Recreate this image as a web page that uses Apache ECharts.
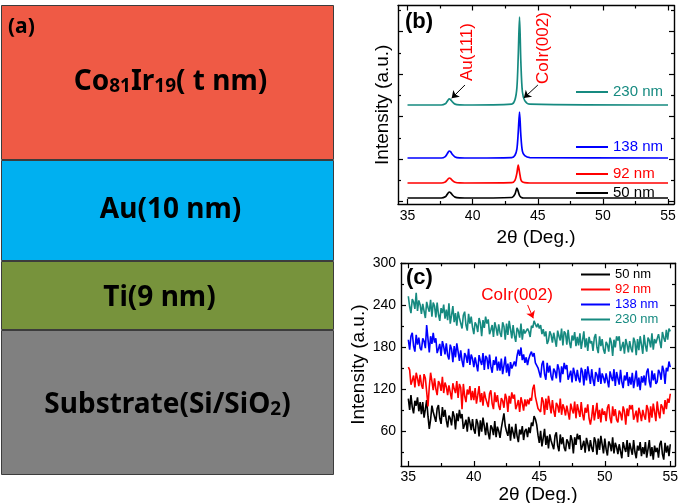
<!DOCTYPE html>
<html>
<head>
<meta charset="utf-8">
<script src="https://cdn.jsdelivr.net/npm/echarts@6/dist/echarts.min.js"></script>
<style>
  html, body { margin: 0; padding: 0; background: #fff; }
  #chart { width: 685px; height: 503px; }
</style>
</head>
<body>
<div id="chart"></div>
<script>
// ---- (a) film stack, top to bottom ----
const layerLabels = ['{m|Co}{s|81}{m|Ir}{s|19}{m|( t nm)}', '{m|Au(10 nm)}', '{m|Ti(9 nm)}', '{m|Substrate(Si/SiO}{s|2}{m|)}'];
const layerHeights = [155, 101, 69, 145];
const layerColors = ['#ef5a45', '#00b0f0', '#77933c', '#808080'];

// ---- (b) XRD, 2theta (deg) and stacked intensity (a.u.) ----
const thetaB = [35, 37.6, 37.9, 38.05, 38.2, 38.3, 38.45, 38.65, 39.0, 39.4, 43.0, 43.25, 43.4, 43.5, 43.6, 43.7, 43.82, 44.0, 44.4, 55];
const b50 = [87, 87, 115, 172, 228, 214, 158, 108, 90, 87, 99, 181, 322, 240, 146, 106, 92, 87, 87, 87];
const b92 = [440, 440, 464, 511, 558, 546, 499, 458, 442, 440, 448, 504, 673, 864, 694, 525, 465, 448, 440, 440];
const b138 = [1028, 1028, 1061, 1127, 1193, 1177, 1111, 1053, 1031, 1028, 1039, 1093, 1245, 1624, 2111, 1570, 1190, 1082, 1039, 1028];
const b230 = [2275, 2275, 2303, 2360, 2417, 2403, 2346, 2296, 2278, 2275, 2296, 2399, 2689, 3414, 4346, 3311, 2586, 2379, 2296, 2275];
const ticksB_x = [35, 40, 45, 50, 55];
const minorB_x = [37.5, 42.5, 47.5, 52.5];
const ticksB_y = [0, 1000, 2000, 3000, 4000];
const minorB_y = [500, 1500, 2500, 3500, 4500];

// ---- (c) scans from 35 to 55 deg, 0.1 deg step (one row per degree) ----
const scanStart = 35, scanStep = 0.1;
const c50 = [
  107, 91, 112, 95, 86, 104, 97, 109, 89, 102,
  85, 102, 80, 92, 105, 82, 64, 77, 97, 88,
  88, 74, 93, 98, 79, 71, 95, 81, 91, 76,
  66, 83, 79, 69, 89, 82, 63, 86, 75, 91,
  79, 85, 64, 70, 77, 60, 81, 73, 62, 78,
  63, 57, 78, 72, 53, 76, 60, 80, 68, 55,
  73, 58, 49, 69, 65, 55, 75, 52, 67, 61,
  51, 65, 63, 86, 68, 60, 54, 71, 47, 67,
  66, 50, 71, 54, 45, 63, 56, 68, 48, 61,
  64, 52, 66, 58, 73, 68, 82, 78, 70, 55,
  44, 61, 39, 51, 64, 41, 54, 36, 56, 47,
  49, 35, 54, 59, 40, 32, 56, 42, 52, 37,
  32, 49, 45, 35, 55, 48, 29, 52, 41, 57,
  49, 55, 34, 40, 47, 30, 51, 43, 32, 48,
  37, 31, 52, 46, 27, 50, 34, 54, 42, 29,
  50, 35, 26, 46, 42, 32, 52, 29, 44, 38,
  28, 42, 40, 22, 45, 37, 31, 48, 24, 44,
  43, 27, 48, 31, 22, 40, 33, 45, 25, 38,
  28, 45, 23, 35, 48, 25, 38, 20, 40, 31,
  37, 23, 42, 47, 28, 20, 44, 30, 40, 25,
  42];
const c92 = [
  152, 148, 127, 133, 140, 123, 144, 136, 125, 141,
  127, 121, 142, 136, 117, 96, 124, 144, 132, 119,
  136, 121, 112, 132, 128, 118, 138, 115, 130, 124,
  112, 126, 124, 106, 129, 121, 115, 132, 108, 128,
  123, 92, 128, 111, 102, 120, 113, 125, 105, 118,
  105, 122, 100, 112, 125, 102, 115, 97, 117, 108,
  109, 95, 114, 119, 100, 92, 116, 102, 112, 97,
  91, 108, 104, 94, 114, 107, 88, 111, 100, 116,
  107, 113, 92, 98, 105, 88, 109, 101, 90, 106,
  96, 106, 99, 108, 104, 121, 127, 110, 108, 93,
  94, 88, 109, 103, 84, 107, 91, 111, 99, 86,
  105, 90, 81, 101, 97, 87, 107, 84, 99, 93,
  83, 97, 95, 77, 100, 92, 86, 103, 79, 99,
  97, 81, 102, 85, 76, 94, 87, 99, 79, 70,
  81, 98, 76, 88, 101, 78, 91, 73, 93, 84,
  89, 75, 94, 99, 80, 72, 96, 82, 92, 77,
  73, 90, 86, 76, 96, 89, 70, 93, 82, 98,
  92, 98, 77, 83, 90, 73, 94, 86, 75, 91,
  83, 77, 98, 92, 73, 96, 80, 100, 88, 75,
  103, 88, 79, 99, 95, 85, 105, 92, 107, 101,
  114];
const c138 = [
  191, 177, 196, 201, 182, 174, 198, 184, 194, 179,
  176, 193, 189, 179, 212, 192, 173, 196, 185, 201,
  187, 193, 172, 178, 185, 168, 189, 181, 170, 186,
  169, 163, 184, 178, 159, 182, 166, 186, 174, 161,
  176, 161, 152, 172, 168, 158, 178, 155, 170, 164,
  152, 166, 164, 146, 169, 161, 155, 172, 148, 168,
  165, 149, 170, 153, 144, 162, 155, 167, 147, 160,
  147, 164, 142, 154, 167, 144, 157, 139, 159, 150,
  150, 160, 153, 168, 177, 168, 180, 162, 170, 158,
  166, 155, 164, 170, 174, 167, 172, 158, 160, 151,
  151, 137, 156, 161, 142, 134, 158, 144, 154, 139,
  133, 150, 146, 136, 156, 149, 130, 153, 142, 158,
  149, 155, 134, 140, 147, 130, 151, 143, 132, 148,
  136, 130, 151, 145, 126, 149, 133, 153, 141, 128,
  149, 134, 125, 145, 141, 131, 151, 128, 143, 137,
  129, 143, 141, 123, 146, 138, 132, 149, 125, 145,
  143, 127, 148, 131, 122, 140, 133, 145, 125, 138,
  127, 144, 122, 134, 147, 124, 137, 119, 139, 130,
  140, 126, 145, 150, 131, 123, 147, 133, 143, 128,
  131, 148, 144, 134, 154, 147, 128, 151, 146, 160,
  152];
const c230 = [
  253, 238, 229, 249, 245, 235, 258, 232, 247, 241,
  228, 242, 240, 222, 245, 237, 231, 248, 224, 244,
  239, 223, 244, 227, 218, 236, 229, 241, 221, 234,
  219, 243, 214, 226, 239, 216, 229, 211, 231, 222,
  221, 207, 226, 231, 212, 204, 228, 214, 224, 209,
  199, 216, 212, 202, 222, 215, 196, 219, 208, 224,
  214, 220, 199, 205, 212, 195, 216, 208, 197, 213,
  201, 195, 216, 210, 191, 214, 198, 218, 206, 193,
  212, 197, 188, 208, 204, 194, 214, 191, 206, 200,
  198, 207, 203, 195, 211, 208, 218, 213, 209, 214,
  207, 212, 199, 206, 196, 203, 185, 190, 203, 198,
  187, 201, 199, 181, 204, 196, 190, 207, 183, 203,
  200, 184, 205, 188, 179, 197, 190, 202, 182, 195,
  183, 200, 178, 190, 203, 180, 193, 175, 195, 186,
  189, 175, 194, 199, 180, 172, 196, 182, 192, 177,
  171, 188, 184, 174, 194, 187, 168, 191, 180, 196,
  190, 196, 175, 181, 188, 171, 192, 184, 173, 189,
  179, 173, 194, 188, 169, 192, 176, 196, 184, 171,
  198, 183, 174, 194, 190, 180, 200, 177, 192, 186,
  185, 199, 197, 179, 202, 194, 188, 205, 191, 207,
  203];
const ticksC_x = [35, 40, 45, 50, 55];
const minorC_x = [37.5, 42.5, 47.5, 52.5];
const ticksC_y = [60, 120, 180, 240, 300];
const minorC_y = [30, 90, 150, 210, 270];

const seriesNames = ['50 nm', '92 nm', '138 nm', '230 nm'];
const seriesColors = ['#000000', '#ff0000', '#0000ff', '#168a80'];

const FONT = 'Liberation Sans, Arial, sans-serif';
const chart = echarts.init(document.getElementById('chart'));

// four axes per direction: main + minor ticks, mirrored on the opposite side
function frame(dim, gridIndex, min, max, major, minor, showLabels, name, nameGap, labelMargin) {
  const sides = dim === 'x' ? ['bottom', 'top'] : ['left', 'right'];
  const axes = [];
  sides.forEach((position, side) => {
    [major, minor].forEach((ticks, k) => {
      const main = side === 0 && k === 0;
      axes.push({
        type: 'value', gridIndex, position, min, max,
        axisLine: { show: k === 0, onZero: false, lineStyle: { color: '#000', width: 1.4 } },
        axisTick: { show: true, inside: true, length: k === 0 ? 5 : 3, customValues: ticks,
          lineStyle: { color: '#000', width: 1.2 } },
        axisLabel: { show: main && showLabels, customValues: major, margin: labelMargin,
          color: '#000', fontSize: 14, fontFamily: FONT },
        splitLine: { show: false },
        name: main ? name : '',
        nameLocation: 'middle',
        nameGap,
        nameTextStyle: { color: '#000', fontSize: 19, fontFamily: FONT }
      });
    });
  });
  return axes;
}

const xyB = (ys) => thetaB.map((t, i) => [t, ys[i]]);
const xyC = (ys) => ys.map((v, i) => [+(scanStart + i * scanStep).toFixed(1), v]);

const seriesB = [b50, b92, b138, b230].map((ys, i) => ({
  name: seriesNames[i], type: 'line', xAxisIndex: 0, yAxisIndex: 0,
  data: xyB(ys), symbol: 'none', smooth: 0.3,
  lineStyle: { color: seriesColors[i], width: 1.7 }, itemStyle: { color: seriesColors[i] }
}));
// peak labels and arrows on the top trace
seriesB[3].markPoint = {
  symbol: 'circle', symbolSize: 0, silent: true,
  label: { show: true, position: 'inside', rotate: 90, color: '#ff0000', fontSize: 17, fontFamily: FONT,
    formatter: (p) => p.name },
  data: [{ name: 'Au(111)', coord: [39.56, 3522] }, { name: 'CoIr(002)', coord: [45.39, 3616] }]
};
seriesB[3].markLine = {
  silent: true, symbol: ['none', 'arrow'], symbolSize: 7, label: { show: false },
  lineStyle: { color: '#000', width: 1, type: 'solid' },
  data: [[{ coord: [39.41, 2746] }, { coord: [38.39, 2433] }],
         [{ coord: [45.01, 2746] }, { coord: [43.93, 2440] }]]
};

const seriesC = [c50, c92, c138, c230].map((ys, i) => ({
  name: seriesNames[i], type: 'line', xAxisIndex: 4, yAxisIndex: 4,
  data: xyC(ys), symbol: 'none',
  lineStyle: { color: seriesColors[i], width: 1.6 }, itemStyle: { color: seriesColors[i] }
}));
seriesC[3].markPoint = {
  symbol: 'circle', symbolSize: 0, silent: true,
  label: { show: true, position: 'inside', color: '#ff0000', fontSize: 17, fontFamily: FONT,
    formatter: (p) => p.name },
  data: [{ name: 'CoIr(002)', coord: [43.3, 255] }]
};
seriesC[3].markLine = {
  silent: true, symbol: ['none', 'arrow'], symbolSize: 7, label: { show: false },
  lineStyle: { color: '#ff0000', width: 1, type: 'solid' },
  data: [[{ coord: [44.11, 240.6] }, { coord: [44.54, 221.6] }]]
};

const labelShift = [[3, -3], [3, -3], [-8, 0], [0, 0]];
const seriesA = layerHeights.map((h, i) => ({
  type: 'bar', stack: 'film', xAxisIndex: 8, yAxisIndex: 8, barWidth: '100%',
  data: [h],
  itemStyle: { color: layerColors[i], borderColor: '#3c3c3c', borderWidth: 1 },
  label: {
    show: true, position: 'inside', offset: labelShift[i],
    formatter: layerLabels[i],
    rich: {
      m: { fontSize: 28, fontWeight: 'bold', color: '#000', fontFamily: 'Noto Sans', lineHeight: 34, verticalAlign: 'bottom' },
      s: { fontSize: 19, fontWeight: 'bold', color: '#000', fontFamily: 'Noto Sans', lineHeight: 20, verticalAlign: 'bottom' }
    }
  }
}));

const legendTopsB = [185, 166, 139, 84];

chart.setOption({
  animation: false,
  backgroundColor: '#fff',
  title: [
    { text: '(a)', left: 3, top: 12, textStyle: { fontSize: 21, fontWeight: 'bold', fontFamily: 'Noto Sans', color: '#000' } },
    { text: '(b)', left: 400, top: 6, textStyle: { fontSize: 22, fontWeight: 'bold', fontFamily: FONT, color: '#000' } },
    { text: '(c)', left: 401, top: 262, textStyle: { fontSize: 22, fontWeight: 'bold', fontFamily: FONT, color: '#000' } }
  ],
  legend: seriesNames.map((n, i) => ({
    data: [{ name: n, textStyle: { color: seriesColors[i] } }],
    left: 576, top: legendTopsB[i], padding: 0, icon: 'rect', itemWidth: 32, itemHeight: 2,
    selectedMode: false, textStyle: { fontSize: 15, fontFamily: FONT, lineHeight: 16 }
  })).concat([{
    data: seriesNames.map((n, i) => ({ name: n, textStyle: { color: seriesColors[i] } })),
    orient: 'vertical', left: 581, top: 267, padding: 0, itemGap: 0, icon: 'rect',
    itemWidth: 29, itemHeight: 2, selectedMode: false,
    textStyle: { fontSize: 13, fontFamily: FONT, lineHeight: 15 }
  }]),
  grid: [
    { left: 398, right: 11, top: 5.5, bottom: 299, outerBoundsMode: 'none' },
    { left: 401, right: 10, top: 263.3, bottom: 37, outerBoundsMode: 'none' },
    { left: 1, top: 5, width: 333, height: 470, outerBoundsMode: 'none' }
  ],
  xAxis: [
    ...frame('x', 0, 34.27, 55.46, ticksB_x, minorB_x, true, '2θ (Deg.)', 24, 5),
    ...frame('x', 1, 34.44, 55.36, ticksC_x, minorC_x, true, '2θ (Deg.)', 12, 4),
    { type: 'category', gridIndex: 2, data: ['stack'], show: false }
  ],
  yAxis: [
    ...frame('y', 0, -54, 4616, ticksB_y, minorB_y, false, 'Intensity (a.u.)', 6, 5),
    ...frame('y', 1, 11, 300, ticksC_y, minorC_y, true, 'Intensity (a.u.)', 24, 5),
    { type: 'value', gridIndex: 2, inverse: true, min: 0, max: layerHeights.reduce((a, b) => a + b, 0), show: false }
  ],
  series: [...seriesB, ...seriesC, ...seriesA]
});
</script>
</body>
</html>
